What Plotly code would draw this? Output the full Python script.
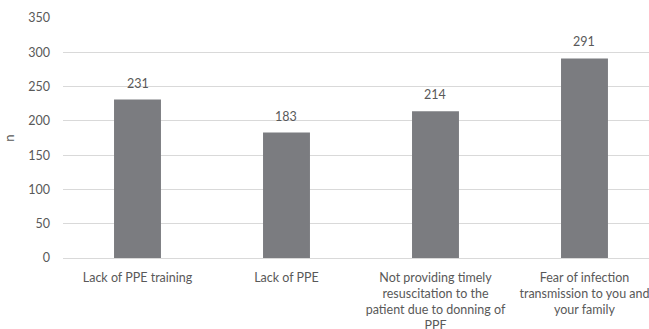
import plotly.graph_objects as go

# Reported barriers and respondent counts
categories = [
    "Lack of PPE training",
    "Lack of PPE",
    "Not providing timely<br>resuscitation to the<br>patient due to donning of<br>PPE",
    "Fear of infection<br>transmission to you and<br>your family",
]
counts = [231, 183, 214, 291]
y_ticks = [0, 50, 100, 150, 200, 250, 300, 350]

text_color = "#595959"
bar_color = "#7b7c80"
font_family = "Lato, 'Open Sans', sans-serif"

positions = list(range(len(categories)))

fig = go.Figure(
    go.Bar(
        x=positions,
        y=counts,
        marker=dict(color=bar_color, line=dict(width=0)),
        width=0.315,
        hoverinfo="skip",
    )
)

# value labels floating above each bar
for xi, v in zip(positions, counts):
    fig.add_annotation(
        x=xi, y=v, text=str(v), showarrow=False,
        yanchor="bottom", yshift=7,
        font=dict(size=12.5, color=text_color, family=font_family),
    )

fig.update_layout(
    width=649,
    height=329,
    margin=dict(l=63, r=0, t=18, b=71, autoexpand=False),
    paper_bgcolor="white",
    plot_bgcolor="white",
    showlegend=False,
    font=dict(family=font_family, color=text_color, size=12.5),
    xaxis=dict(
        tickmode="array",
        tickvals=positions,
        ticktext=categories,
        range=[-0.5, 3.433],
        showgrid=False,
        showline=False,
        zeroline=False,
        ticks="",
        automargin=False,
        ticklabeloverflow="allow",
        ticklabelstandoff=10,
        tickfont=dict(size=12.5, color=text_color),
    ),
    yaxis=dict(
        range=[0, 350],
        tickvals=y_ticks,
        showgrid=True,
        gridcolor="#d9d9d9",
        gridwidth=1,
        zeroline=True,
        zerolinecolor="#d9d9d9",
        zerolinewidth=1,
        showline=False,
        ticks="",
        automargin=False,
        ticklabelstandoff=12,
        tickfont=dict(size=12.5, color=text_color),
        title=dict(text="n", standoff=10, font=dict(size=13, color=text_color)),
    ),
)

fig.write_html("out.html")
